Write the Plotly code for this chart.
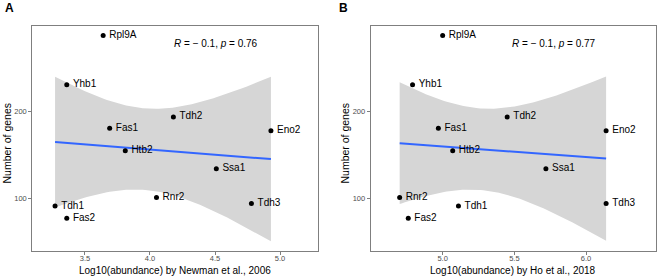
import numpy as np
import plotly.graph_objects as go

genes = ["Rpl9A", "Yhb1", "Tdh2", "Fas1", "Eno2", "Htb2", "Ssa1", "Rnr2", "Tdh1", "Tdh3", "Fas2"]
n_genes = [288, 231, 194, 181, 178, 155, 134, 101, 91, 94, 77]
abund_newman = [3.64, 3.36, 4.18, 3.69, 4.93, 3.81, 4.51, 4.05, 3.27, 4.78, 3.36]
abund_ho = [5.00, 4.79, 5.45, 4.97, 6.14, 5.07, 5.72, 4.70, 5.11, 6.14, 4.76]

titles_x = ["Log10(abundance) by Newman et al., 2006", "Log10(abundance) by Ho et al., 2018"]
stats_text = ["<i>R</i> = \u2212 0.1, <i>p</i> = 0.76", "<i>R</i> = \u2212 0.1, <i>p</i> = 0.77"]
panel_tags = ["A", "B"]
x_ticks = [[3.5, 4.0, 4.5, 5.0], [5.0, 5.5, 6.0]]
x_ranges = [[3.095, 5.292], [4.498, 6.488]]
y_range = [39.1, 299.3]
T975_DF9 = 2.262157

W, H = 658, 278
x_domains = [[32.3 / W, 318 / W], [370.7 / W, 656 / W]]
y_domain = [1 - 251 / H, 1 - 25.7 / H]

FONT = "Liberation Sans, Arial, sans-serif"
fig = go.Figure()

def lm_band(x, y, n=80):
    x = np.asarray(x, float); y = np.asarray(y, float)
    b, a = np.polyfit(x, y, 1)
    xs = np.linspace(x.min(), x.max(), n)
    yhat = a + b * xs
    resid = y - (a + b * x)
    s = np.sqrt(np.sum(resid ** 2) / (len(x) - 2))
    se = s * np.sqrt(1 / len(x) + (xs - x.mean()) ** 2 / np.sum((x - x.mean()) ** 2))
    return xs, yhat, yhat - T975_DF9 * se, yhat + T975_DF9 * se

for i, xv in enumerate([abund_newman, abund_ho]):
    xa = "x" if i == 0 else "x2"
    ya = "y" if i == 0 else "y2"
    xs, yhat, lo, hi = lm_band(xv, n_genes)
    fig.add_trace(go.Scatter(x=np.concatenate([xs, xs[::-1]]), y=np.concatenate([hi, lo[::-1]]),
                             fill="toself", fillcolor="#d6d6d6", line=dict(width=0),
                             mode="lines", hoverinfo="skip", showlegend=False, xaxis=xa, yaxis=ya))
    fig.add_trace(go.Scatter(x=xs, y=yhat, mode="lines", line=dict(color="#3366FF", width=2),
                             showlegend=False, xaxis=xa, yaxis=ya))
    fig.add_trace(go.Scatter(x=xv, y=n_genes, mode="markers+text", text=["\u2009" + g for g in genes],
                             textposition="middle right",
                             textfont=dict(family=FONT, size=10, color="black"),
                             marker=dict(color="black", size=5),
                             showlegend=False, xaxis=xa, yaxis=ya))

axis_common = dict(showgrid=False, zeroline=False, showline=True, linecolor="#7f7f7f", linewidth=1,
                   mirror=True, ticks="outside", ticklen=3, tickcolor="#7f7f7f", automargin=False,
                   tickfont=dict(family=FONT, size=7.5, color="#4d4d4d"))

for i in range(2):
    sfx = "" if i == 0 else "2"
    fig.layout["xaxis" + sfx] = dict(axis_common, domain=x_domains[i], range=x_ranges[i],
                                     tickvals=x_ticks[i], ticktext=[f"{t:.1f}" for t in x_ticks[i]],
                                     anchor="y" + sfx, ticklabelstandoff=-3)
    fig.layout["yaxis" + sfx] = dict(axis_common, domain=y_domain, range=y_range,
                                     tickvals=[100, 200], anchor="x" + sfx)

annotations = []
stat_x = [215.5, 554]
tag_x = [3, 337]
xtitle_x = [(32.3 + 318) / 2, (370.7 + 656) / 2]
ytitle_x = [6.5, 344.5]
for i in range(2):
    annotations.append(dict(text=stats_text[i], x=stat_x[i] / W, y=1 - 43.3 / H, xref="paper", yref="paper",
                            showarrow=False, xanchor="center", yanchor="middle",
                            font=dict(family=FONT, size=10, color="black")))
    annotations.append(dict(text="<b>" + panel_tags[i] + "</b>", x=tag_x[i] / W, y=1 - 8 / H,
                            xref="paper", yref="paper", showarrow=False, xanchor="left", yanchor="middle",
                            font=dict(family=FONT, size=12, color="black")))
    annotations.append(dict(text=titles_x[i], x=xtitle_x[i] / W, y=1 - 270.5 / H,
                            xref="paper", yref="paper", showarrow=False, xanchor="center", yanchor="middle",
                            font=dict(family=FONT, size=10, color="black")))
    annotations.append(dict(text="Number of genes", x=ytitle_x[i] / W, y=1 - 143 / H,
                            xref="paper", yref="paper", showarrow=False, xanchor="center", yanchor="middle",
                            textangle=-90, font=dict(family=FONT, size=10.5, color="black")))

fig.update_layout(width=W, height=H, margin=dict(l=0, r=0, t=0, b=0),
                  paper_bgcolor="white", plot_bgcolor="white", annotations=annotations)

fig.write_html("out.html", config={"displayModeBar": False},
               post_script="document.body.style.margin='0';document.body.style.overflow='hidden';")
